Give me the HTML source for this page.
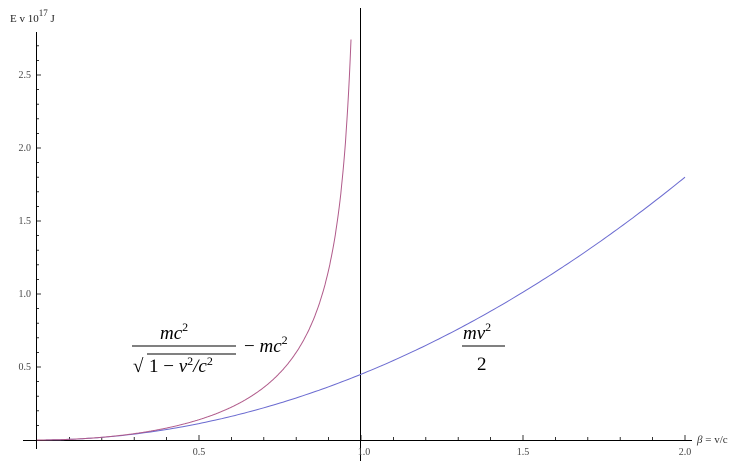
<!DOCTYPE html>
<html><head><style>
body{margin:0;background:#fff}
svg{display:block;font-family:"Liberation Serif",serif}
</style></head><body>
<svg id="s" width="750" height="461" viewBox="0 0 750 461">
<line x1="23" y1="440.5" x2="692" y2="440.5" stroke="#000" stroke-width="1"/>
<line x1="36.5" y1="32" x2="36.5" y2="449" stroke="#000" stroke-width="1"/>
<line x1="360.5" y1="8" x2="360.5" y2="461" stroke="#000" stroke-width="1"/>
<g id="ticks" stroke="#000" stroke-width="0.8"></g>
<g font-size="10" fill="#444">
<text x="199" y="455" text-anchor="middle">0.5</text>
<text x="364" y="455" text-anchor="middle">1.0</text>
<text x="523" y="455" text-anchor="middle">1.5</text>
<text x="685" y="455" text-anchor="middle">2.0</text>
<text x="31" y="370" text-anchor="end">0.5</text>
<text x="31" y="297" text-anchor="end">1.0</text>
<text x="31" y="224" text-anchor="end">1.5</text>
<text x="31" y="151" text-anchor="end">2.0</text>
<text x="31" y="78" text-anchor="end">2.5</text>
<text x="697" y="443" font-size="11" fill="#333"><tspan font-style="italic">β</tspan> = v/c</text>
<text x="10" y="22" font-size="11" fill="#222">E  v 10<tspan dy="-6" font-size="9">17</tspan><tspan dy="6"> J</tspan></text>
</g>
<path id="blue" fill="none" stroke="#6a6ad0" stroke-width="1"/>
<path id="red" fill="none" stroke="#b05a8a" stroke-width="1"/>
<g font-size="19" font-style="italic" fill="#000">
<text x="160" y="339">mc<tspan dy="-8" font-size="12" font-style="normal">2</tspan></text>
<line x1="132" y1="346" x2="236" y2="346" stroke="#000" stroke-width="1"/>
<text x="133" y="372" font-style="normal">√</text>
<line x1="147" y1="354" x2="236" y2="354" stroke="#000" stroke-width="1"/>
<text x="149" y="372"><tspan font-style="normal">1 − </tspan>v<tspan dy="-7" font-size="12" font-style="normal">2</tspan><tspan dy="7">/c</tspan><tspan dy="-7" font-size="12" font-style="normal">2</tspan></text>
<text x="244" y="352"><tspan font-style="normal">− </tspan>mc<tspan dy="-8" font-size="12" font-style="normal">2</tspan></text>
<text x="463" y="339">mv<tspan dy="-8" font-size="12" font-style="normal">2</tspan></text>
<line x1="462" y1="346" x2="505" y2="346" stroke="#000" stroke-width="1"/>
<text x="477" y="370" font-style="normal">2</text>
</g>
</svg>
<script>
var X=b=>37+324*b, Y=v=>440-146*v;
var d="";for(var i=0;i<=200;i++){var b=i/100;d+=(i?"L":"M")+X(b).toFixed(1)+","+Y(0.45*b*b).toFixed(1);}
document.getElementById("blue").setAttribute("d",d);
d="";for(var i=0;i<=400;i++){var b=0.969*i/400;d+=(i?"L":"M")+X(b).toFixed(1)+","+Y(0.9*(1/Math.sqrt(1-b*b)-1)).toFixed(1);}
document.getElementById("red").setAttribute("d",d);
var t="";
for(var i=1;i<=20;i++){var x=X(i/10).toFixed(1),L=i%5?3:5;t+='<line x1="'+x+'" y1="440" x2="'+x+'" y2="'+(440-L)+'"/>';}
for(var i=1;i<=27;i++){var y=Y(i/10).toFixed(1),L=i%5?3:5;t+='<line x1="36" y1="'+y+'" x2="'+(36+L)+'" y2="'+y+'"/>';}
document.getElementById("ticks").innerHTML=t;
</script>
</body></html>
